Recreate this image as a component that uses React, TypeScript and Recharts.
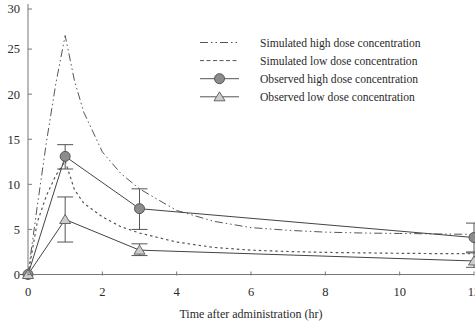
import React from "react";
import { ComposedChart, Line, XAxis, YAxis, ErrorBar } from "recharts";

// simulated concentration curves (hr, concentration)
const simTimes = [0, 0.25, 0.5, 0.75, 1, 1.25, 1.5, 2, 2.5, 3, 4, 5, 6, 7, 8, 9, 10, 11, 12];
const simHigh = [0, 7.6, 14.8, 21.2, 26.5, 21.5, 18.0, 13.6, 11.2, 9.5, 7.1, 5.9, 5.2, 4.9, 4.7, 4.6, 4.55, 4.5, 4.45];
const simLow = [0, 5.8, 8.8, 11.0, 12.6, 9.4, 7.9, 6.4, 5.3, 4.6, 3.6, 3.0, 2.7, 2.55, 2.45, 2.4, 2.35, 2.32, 2.3];

// observed means with error bar extents
const obsTimes = [0, 1, 3, 12];
const obsHighMean = [0, 13.1, 7.3, 4.1];
const obsHighUpper = [0, 14.4, 9.5, 5.7];
const obsHighLower = [0, 11.7, 5.0, 2.5];
const obsLowMean = [0, 6.1, 2.7, 1.5];
const obsLowUpper = [0, 8.6, 3.4, 2.4];
const obsLowLower = [0, 3.6, 2.1, 0.8];

const xTicks = [0, 2, 4, 6, 8, 10, 12];
const yTicks = [0, 5, 10, 15, 20, 25, 30];

const legendLabels = [
  "Simulated high dose concentration",
  "Simulated low dose concentration",
  "Observed high dose concentration",
  "Observed low dose concentration",
];

const FONT = "'Liberation Serif', 'Times New Roman', serif";
const AXIS = "#777";
const TEXT = "#2a2a2a";
const DASH_DOT = "8 3 1.5 3 1.5 3";
const DOTTED = "2.5 3";

const simHighData = simTimes.map((t, i) => ({ t, v: simHigh[i] }));
const simLowData = simTimes.map((t, i) => ({ t, v: simLow[i] }));
const obsHighData = obsTimes.map((t, i) => ({
  t,
  v: obsHighMean[i],
  err: [obsHighMean[i] - obsHighLower[i], obsHighUpper[i] - obsHighMean[i]],
}));
const obsLowData = obsTimes.map((t, i) => ({
  t,
  v: obsLowMean[i],
  err: [obsLowMean[i] - obsLowLower[i], obsLowUpper[i] - obsLowMean[i]],
}));

const triangle = (cx: number, cy: number) =>
  `${cx},${cy - 5} ${cx - 5.5},${cy + 4} ${cx + 5.5},${cy + 4}`;

const TriangleDot = (props: any) => {
  const { cx, cy, index } = props;
  if (cx == null || cy == null) return <g key={index} />;
  return <polygon key={index} points={triangle(cx, cy)} fill="#cdcdcd" stroke="#666" strokeWidth={1} />;
};

const renderYTick = (props: any) => {
  const { x, y, payload } = props;
  return (
    <g key={`y-${payload.value}`}>
      <line x1={x + 8} x2={x + 12} y1={y} y2={y} stroke={AXIS} />
      <text x={x} y={y} dy="0.35em" textAnchor="end" fontSize={12.5} fill={TEXT} fontFamily={FONT}>
        {payload.value}
      </text>
    </g>
  );
};

const renderXTick = (props: any) => {
  const { x, y, payload } = props;
  // y sits tickMargin (12.5) below the axis line
  return (
    <g key={`x-${payload.value}`}>
      <line x1={x} x2={x} y1={y - 11.5} y2={y - 15.5} stroke={AXIS} />
      <text x={x} y={y} dy="0.71em" textAnchor="middle" fontSize={12.5} fill={TEXT} fontFamily={FONT}>
        {payload.value}
      </text>
    </g>
  );
};

function LegendBox() {
  return (
    <svg width={475} height={321} style={{ position: "absolute", left: 0, top: 0, pointerEvents: "none" }}>
      {legendLabels.map((label, i) => {
        const y = 42.5 + i * 18.1;
        return (
          <g key={label}>
            <line
              x1={200}
              x2={239}
              y1={y}
              y2={y}
              stroke="#555"
              strokeDasharray={i === 0 ? DASH_DOT : i === 1 ? "4 2.5" : undefined}
            />
            {i === 2 && <circle cx={219.5} cy={y} r={5} fill="#8c8c8c" stroke="#555" />}
            {i === 3 && <polygon points={triangle(219.5, y)} fill="#cdcdcd" stroke="#666" />}
            <text x={260} y={y} dy="0.35em" fontSize={11.6} fill={TEXT} fontFamily={FONT}>
              {label}
            </text>
          </g>
        );
      })}
    </svg>
  );
}

export default function App() {
  return (
    <div
      style={{
        position: "absolute",
        left: 0,
        top: 0,
        width: 475,
        height: 321,
        overflow: "hidden",
        background: "#fff",
      }}
    >
      <ComposedChart
        width={500}
        height={321}
        margin={{ top: 4, right: 26, left: 0, bottom: 0 }}
        style={{ fontFamily: FONT }}
      >
        <XAxis
          dataKey="t"
          type="number"
          domain={[0, 12]}
          ticks={xTicks}
          height={46.5}
          stroke={AXIS}
          tickLine={false}
          tickSize={0}
          tickMargin={12.5}
          tick={renderXTick}
          allowDuplicatedCategory={false}
          label={{
            value: "Time after administration (hr)",
            position: "insideBottom",
            offset: 3,
            style: { fontSize: 12, fill: TEXT, fontFamily: FONT },
          }}
        />
        <YAxis
          type="number"
          domain={[0, 30]}
          ticks={yTicks}
          width={28}
          stroke={AXIS}
          tickLine={false}
          tickSize={0}
          tickMargin={8}
          tick={renderYTick}
        />
        <Line
          data={simHighData}
          dataKey="v"
          type="linear"
          stroke="#555"
          strokeWidth={1}
          strokeDasharray={DASH_DOT}
          dot={false}
          activeDot={false}
          isAnimationActive={false}
        />
        <Line
          data={simLowData}
          dataKey="v"
          type="linear"
          stroke="#555"
          strokeWidth={1.2}
          strokeDasharray={DOTTED}
          dot={false}
          activeDot={false}
          isAnimationActive={false}
        />
        <Line
          data={obsHighData}
          dataKey="v"
          type="linear"
          stroke="#444"
          strokeWidth={1}
          dot={{ r: 5, fill: "#8c8c8c", stroke: "#555", strokeWidth: 1 }}
          activeDot={false}
          isAnimationActive={false}
        >
          <ErrorBar dataKey="err" direction="y" width={8} stroke="#555" strokeWidth={1} />
        </Line>
        <Line
          data={obsLowData}
          dataKey="v"
          type="linear"
          stroke="#444"
          strokeWidth={1}
          dot={<TriangleDot />}
          activeDot={false}
          isAnimationActive={false}
        >
          <ErrorBar dataKey="err" direction="y" width={8} stroke="#555" strokeWidth={1} />
        </Line>
      </ComposedChart>
      <LegendBox />
    </div>
  );
}
